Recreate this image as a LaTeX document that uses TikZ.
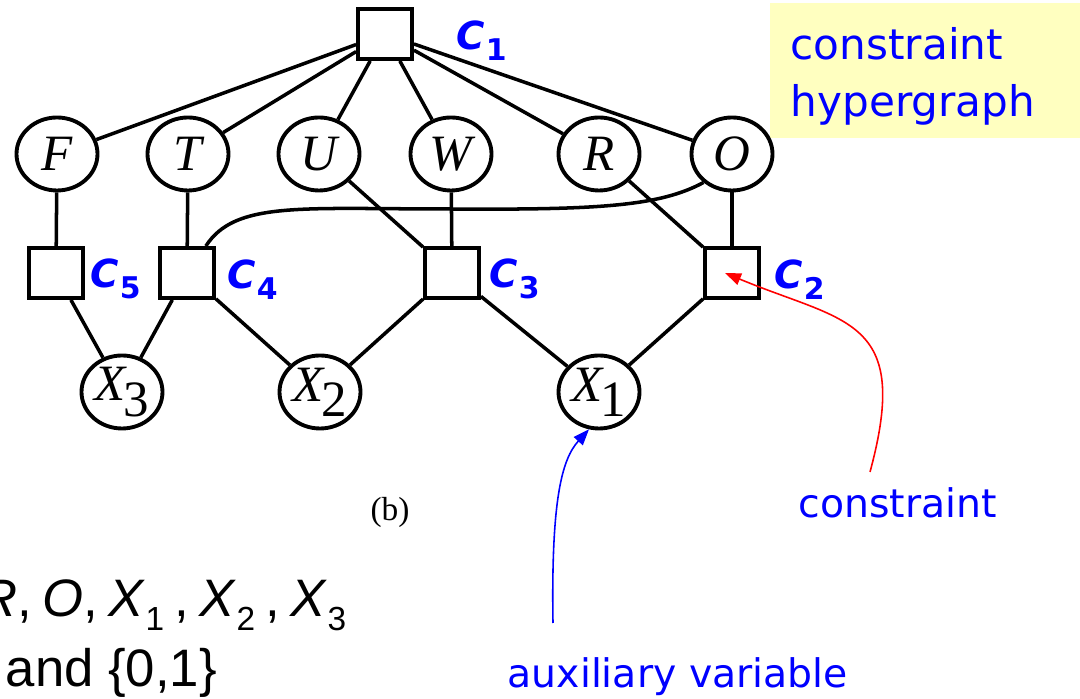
\documentclass[tikz,border=0pt]{standalone}
\usepackage{fontspec}
\setmainfont{Liberation Sans}
\newfontfamily\timesfont{Liberation Serif}
\newfontfamily\comicfont{DejaVu Sans}
\usepackage{tikz}
\usetikzlibrary{positioning, shapes.geometric, arrows.meta}
\definecolor{noteyellow}{HTML}{FFFFC0}
\definecolor{labelblue}{HTML}{0000FF}
\definecolor{pointred}{HTML}{FF0000}
\newcommand{\xsub}[1]{X\kern-0.04em\raisebox{-0.3em}{\upshape #1}}
\newcommand{\csub}[1]{C\kern0.02em\raisebox{-0.28em}{\fontsize{8.5}{8.5}\selectfont\upshape #1}}
\newcommand{\lowsub}[1]{\raisebox{-0.25em}{\fontsize{9.5}{9.5}\selectfont #1}}
\newcommand{\gap}{\hspace{0.2em}}
\tikzset{
	varnode/.style={draw, ellipse, line width=1.1pt, fill=white,
			minimum width=0.81cm, minimum height=0.73cm, inner sep=0pt,
			font=\timesfont\itshape\fontsize{14.5}{14.5}\selectfont}
}
\tikzset{
	consnode/.style={draw, rectangle, line width=1.1pt, fill=white,
			minimum width=0.54cm, minimum height=0.50cm, inner sep=0pt}
}
\tikzset{
	hyperedge/.style={line width=1pt}
}
\tikzset{
	clabel/.style={inner sep=0pt, text=labelblue,
			font=\comicfont\bfseries\itshape\fontsize{11}{11}\selectfont}
}
\tikzset{
	bluetext/.style={inner sep=0pt, text=labelblue, font=\comicfont\fontsize{11.2}{13}\selectfont}
}
\tikzset{
	bigbluetext/.style={inner sep=0pt, text=labelblue, font=\comicfont\fontsize{12}{14}\selectfont}
}
\tikzset{
	sumtext/.style={inner sep=0pt, font=\fontsize{15}{18}\selectfont}
}
\tikzset{
	pointer/.style={line width=0.45pt, -{Triangle[length=1.6mm,width=1.2mm]}}
}

\begin{document}
\begin{tikzpicture}

	\useasboundingbox (0,0) rectangle (10.8,6.99);
	\clip (0,0) rectangle (10.8,6.99);

	\fill[noteyellow] (7.70,5.61) rectangle (10.8,6.96);
	\node[bigbluetext, anchor=base west] (boxtop) at (7.90,6.39) {constraint};
	\node[bigbluetext, anchor=base west] (boxbottom) at (7.90,5.82) {hypergraph};

	\begin{scope}
		\coordinate (pC1) at (3.85,6.65);

		\coordinate (pF) at (0.57,5.45);
		\coordinate (pT) at (1.88,5.45);
		\coordinate (pU) at (3.19,5.45);
		\coordinate (pW) at (4.51,5.45);
		\coordinate (pR) at (5.99,5.45);
		\coordinate (pO) at (7.32,5.45);

		\coordinate (pC5) at (0.56,4.26);
		\coordinate (pC4) at (1.87,4.26);
		\coordinate (pC3) at (4.52,4.26);
		\coordinate (pC2) at (7.32,4.26);

		\coordinate (pX3) at (1.22,3.07);
		\coordinate (pX2) at (3.20,3.07);
		\coordinate (pX1) at (5.99,3.07);

		\node[consnode] (C1) at (pC1) {};

		\node[varnode] (F) at (pF) {F};
		\node[varnode] (T) at (pT) {T};
		\node[varnode] (U) at (pU) {U};
		\node[varnode] (W) at (pW) {W};
		\node[varnode] (R) at (pR) {R};
		\node[varnode] (O) at (pO) {O};

		\node[consnode] (C5) at (pC5) {};
		\node[consnode] (C4) at (pC4) {};
		\node[consnode] (C3) at (pC3) {};
		\node[consnode] (C2) at (pC2) {};

		\node[varnode] (X3) at (pX3) {\xsub{3}};
		\node[varnode] (X2) at (pX2) {\xsub{2}};
		\node[varnode] (X1) at (pX1) {\xsub{1}};
	\end{scope}

	\begin{scope}
		\node[clabel, right=0.42cm of C1.south east, anchor=south west] (l1) {\csub{1}};
		\node[clabel, right=0.13cm of C2.south east, anchor=south west] (l2) {\csub{2}};
		\node[clabel, right=0.08cm of C3.south east, anchor=south west] (l3) {\csub{3}};
		\node[clabel, right=0.11cm of C4.south east, anchor=south west] (l4) {\csub{4}};
		\node[clabel, right=0.05cm of C5.south east, anchor=south west] (l5) {\csub{5}};
	\end{scope}

	\begin{scope}
		\draw[hyperedge] (C1) -- (F);
		\draw[hyperedge] (C1) -- (T);
		\draw[hyperedge] (C1) -- (U);
		\draw[hyperedge] (C1) -- (W);
		\draw[hyperedge] (C1) -- (R);
		\draw[hyperedge] (C1) -- (O);

		\draw[hyperedge] (F) -- (C5);
		\draw[hyperedge] (T) -- (C4);
		\draw[hyperedge] (U) -- (C3);
		\draw[hyperedge] (W) -- (C3);
		\draw[hyperedge] (R) -- (C2);
		\draw[hyperedge] (O) -- (C2);
		\draw[hyperedge] (O.225) .. controls (6.6,4.93) and (6.0,4.89) .. (4.5,4.90)
			.. controls (3.0,4.90) and (2.35,4.98) .. (C4.55);

		\draw[hyperedge] (C5) -- (X3);
		\draw[hyperedge] (C4) -- (X3);
		\draw[hyperedge] (C4) -- (X2);
		\draw[hyperedge] (C3) -- (X2);
		\draw[hyperedge] (C3) -- (X1);
		\draw[hyperedge] (C2) -- (X1);
	\end{scope}

	\node[font=\timesfont\fontsize{9.5}{11}\selectfont, inner sep=0pt] (caption) at (3.90,1.87) {(b)};

	\coordinate (redfoot) at (8.70,2.27);
	\coordinate (bluefoot) at (5.53,0.76);
	\draw[pointer, pointred] (redfoot) .. controls (9.12,3.82) and (8.45,3.76) .. ([xshift=-0.7mm]C2.center);
	\draw[pointer, labelblue] (bluefoot) .. controls (5.51,2.0) and (5.62,2.40) .. (X1.255);

	\node[bluetext, anchor=base west] (consnote) at (7.98,1.81) {constraint};
	\node[bluetext, anchor=base west] (auxnote) at (5.07,0.11) {auxiliary variable};

	\node[sumtext, anchor=base east] (varlist) at (3.47,0.82)
		{\textit{R},\gap\textit{O},\gap\textit{X}\lowsub{1}\gap,\gap\textit{X}\lowsub{2}\gap,\gap\textit{X}\lowsub{3}};
	\node[sumtext, anchor=base west] (domlist) at (0.05,0.12) {and \{0,1\}};

\end{tikzpicture}
\end{document}
